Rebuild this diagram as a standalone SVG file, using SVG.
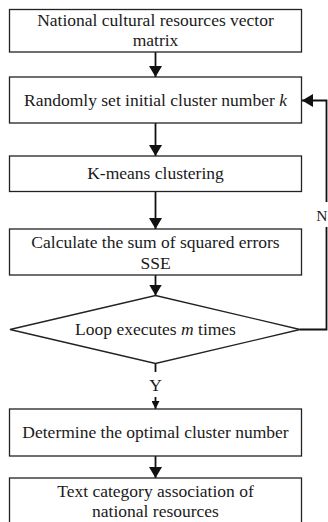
<svg xmlns="http://www.w3.org/2000/svg" width="328" height="522" viewBox="0 0 328 522">
<defs>
<style>
.box{fill:#fff;stroke:#222;stroke-width:1.3}
.t{font-family:"Liberation Serif","Times New Roman","DejaVu Serif",serif;font-size:17.5px;fill:#1a1a1a;text-anchor:middle}
.c{fill:none;stroke:#111;stroke-width:1.8}
</style>
<marker id="ah" markerWidth="11" markerHeight="13" refX="11" refY="6.5" orient="auto" markerUnits="userSpaceOnUse">
<path d="M0,0 L11,6.5 L0,13 Z" fill="#111"/>
</marker>
<marker id="ahs" markerWidth="8" markerHeight="8" refX="8" refY="4" orient="auto" markerUnits="userSpaceOnUse">
<path d="M0,0 L8,4 L0,8 Z" fill="#111"/>
</marker>
</defs>
<rect width="328" height="522" fill="#fff"/>
<g id="connectors">
<line class="c" x1="155.5" y1="52" x2="155.5" y2="77" marker-end="url(#ah)"/>
<line class="c" x1="155.5" y1="123" x2="155.5" y2="156" marker-end="url(#ah)"/>
<line class="c" x1="155.5" y1="191.5" x2="155.5" y2="229" marker-end="url(#ah)"/>
<line class="c" x1="155.5" y1="275" x2="155.5" y2="295.5" marker-end="url(#ah)"/>
<polyline class="c" points="300,329.5 326.5,329.5 326.5,100.5 302,100.5" marker-end="url(#ah)"/>
<line class="c" x1="155.5" y1="363.5" x2="155.5" y2="372"/>
<line class="c" x1="155.5" y1="397" x2="155.5" y2="409" marker-end="url(#ahs)"/>
<line class="c" x1="155.5" y1="456" x2="155.5" y2="478" marker-end="url(#ah)"/>
<rect x="316" y="202" width="12" height="25" fill="#fff"/>
<text class="t" x="321.8" y="221" style="font-size:15.5px">N</text>
<text class="t" x="155.5" y="391">Y</text>
</g>
<g id="n1">
<rect class="box" x="9.5" y="9.5" width="292" height="42.5"/>
<text class="t" x="155.5" y="25.5">National cultural resources vector</text>
<text class="t" x="155.5" y="46">matrix</text>
</g>
<g id="n2">
<rect class="box" x="9.5" y="77" width="292" height="46"/>
<text class="t" x="155.5" y="105.5">Randomly set initial cluster number <tspan font-style="italic">k</tspan></text>
</g>
<g id="n3">
<rect class="box" x="9.5" y="156" width="292" height="35.5"/>
<text class="t" x="155.5" y="178.5">K-means clustering</text>
</g>
<g id="n4">
<rect class="box" x="9.5" y="229" width="292" height="46"/>
<text class="t" x="155.5" y="247.5">Calculate the sum of squared errors</text>
<text class="t" x="155.5" y="269">SSE</text>
</g>
<g id="n5">
<polygon class="box" points="155.5,295.5 300,329.5 155.5,363.5 10,329.5"/>
<text class="t" x="155.5" y="335">Loop executes <tspan font-style="italic">m</tspan> times</text>
</g>
<g id="n6">
<rect class="box" x="9.5" y="409" width="292" height="47"/>
<text class="t" x="155.5" y="437.5">Determine the optimal cluster number</text>
</g>
<g id="n7">
<rect class="box" x="9.5" y="478" width="292" height="50"/>
<text class="t" x="155.5" y="497">Text category association of</text>
<text class="t" x="155.5" y="516.5">national resources</text>
</g>
</svg>
